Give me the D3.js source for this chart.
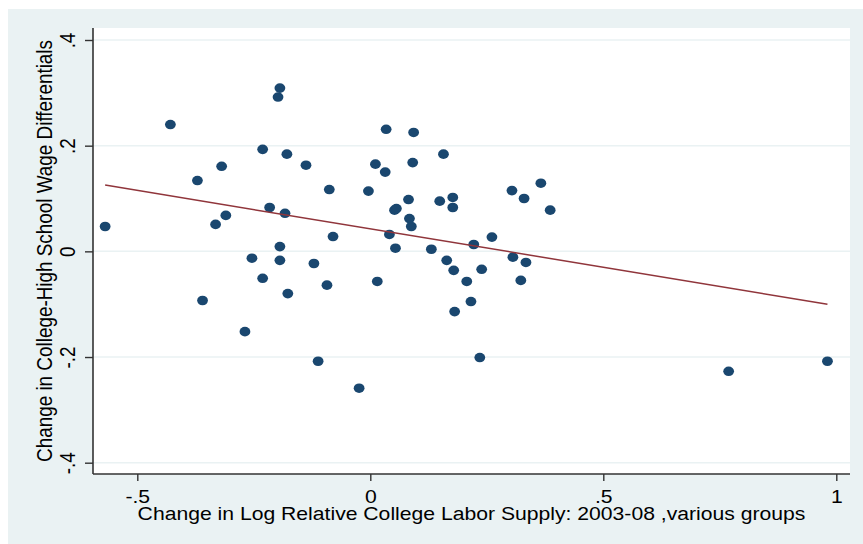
<!DOCTYPE html>
<html>
<head>
<meta charset="utf-8">
<script src="https://cdn.jsdelivr.net/npm/d3@7"></script>
<style>
  body { margin: 0; background: #fff; }
  text { font-family: "Liberation Sans", Arial, sans-serif; fill: #000; }
</style>
</head>
<body>
<svg id="chart" width="863" height="544"></svg>
<script>
// change in log relative college supply (x) vs change in college wage premium (y)
var supply = [-0.569, -0.429, -0.371, -0.360, -0.332, -0.319, -0.310, -0.269, -0.254, -0.231,
              -0.231, -0.216, -0.198, -0.194, -0.194, -0.194, -0.183, -0.179, -0.177, -0.138,
              -0.121, -0.112, -0.093, -0.088, -0.080, -0.024, -0.004, 0.011, 0.015, 0.032,
              0.034, 0.041, 0.052, 0.056, 0.054, 0.082, 0.084, 0.088, 0.091, 0.093,
              0.131, 0.149, 0.157, 0.164, 0.177, 0.177, 0.179, 0.181, 0.207, 0.216,
              0.222, 0.235, 0.239, 0.261, 0.304, 0.306, 0.323, 0.330, 0.334, 0.366,
              0.386, 0.769, 0.981];
var wage = [0.047, 0.240, 0.134, -0.093, 0.051, 0.161, 0.068, -0.152, -0.013, 0.193,
            -0.051, 0.083, 0.292, 0.309, 0.009, -0.017, 0.072, 0.184, -0.080, 0.163,
            -0.023, -0.208, -0.064, 0.117, 0.028, -0.259, 0.114, 0.165, -0.057, 0.150,
            0.231, 0.032, 0.078, 0.081, 0.006, 0.098, 0.062, 0.047, 0.168, 0.225,
            0.004, 0.095, 0.184, -0.017, 0.102, 0.083, -0.036, -0.114, -0.057, -0.095,
            0.013, -0.201, -0.034, 0.027, 0.115, -0.011, -0.055, 0.100, -0.021, 0.129,
            0.078, -0.227, -0.208];

var xTicks = [-0.5, 0, 0.5, 1];
var yTicks = [-0.4, -0.2, 0, 0.2, 0.4];
var xTitle = "Change in Log Relative College Labor Supply: 2003-08 ,various groups";
var yTitle = "Change in College-High School Wage Differentials";

var svg = d3.select("#chart");

var plot = { left: 93, top: 28, right: 850, bottom: 474 };
var stretch = 1.12;   // the picture is a bit wide, text too
var fontSize = "18.9px";

// stata style number format: .5, -.2, 0
var stataFmt = function(d) {
    return String(d).replace(/^(-?)0\./, "$1.");
};

var x = d3.scaleLinear().domain([-0.5, 1]).range([137.3, 836.3]);
var y = d3.scaleLinear().domain([-0.4, 0.4]).range([462.7, 40]);

// background
svg.append("rect")
    .attr("x", 8).attr("y", 9)
    .attr("width", 863 - 8).attr("height", 544 - 9)
    .attr("fill", "#eaf2f3");

svg.append("rect")
    .attr("x", plot.left).attr("y", plot.top)
    .attr("width", plot.right - plot.left).attr("height", plot.bottom - plot.top)
    .attr("fill", "#fff");

// gridlines
svg.append("g")
    .selectAll("line")
    .data(yTicks)
    .join("line")
    .attr("x1", plot.left).attr("x2", plot.right)
    .attr("y1", d => y(d)).attr("y2", d => y(d))
    .attr("stroke", "#eaf2f3")
    .attr("stroke-width", 1.5);

// fitted line (ols on the points)
var mx = d3.mean(supply), my = d3.mean(wage);
var sxy = d3.sum(supply, (v, i) => (v - mx) * (wage[i] - my));
var sxx = d3.sum(supply, v => (v - mx) * (v - mx));
var b = sxy / sxx, a = my - b * mx;
var xr = d3.extent(supply);

// points
svg.append("g")
    .selectAll("ellipse")
    .data(supply)
    .join("ellipse")
    .attr("cx", d => x(d))
    .attr("cy", (d, i) => y(wage[i]))
    .attr("rx", 5.4)
    .attr("ry", 4.8)
    .attr("fill", "#1a476f");

svg.append("line")
    .attr("x1", x(xr[0])).attr("y1", y(a + b * xr[0]))
    .attr("x2", x(xr[1])).attr("y2", y(a + b * xr[1]))
    .attr("stroke", "#90353b")
    .attr("stroke-width", 1.5);

// axes
var xAxis = svg.append("g")
    .attr("transform", "translate(0," + plot.bottom + ")")
    .call(d3.axisBottom(x).tickValues(xTicks).tickFormat(stataFmt).tickSize(7));
xAxis.select(".domain").remove();
xAxis.append("line")
    .attr("x1", plot.left).attr("x2", plot.right)
    .attr("stroke", "#333").attr("stroke-width", 1.6);
xAxis.selectAll(".tick line").attr("stroke", "#333").attr("stroke-width", 1.4);
xAxis.selectAll(".tick text")
    .attr("transform", "scale(" + stretch + ",1)")
    .attr("y", 29).attr("dy", 0)
    .style("font-size", fontSize)
    .attr("fill", "#000");

var yAxis = svg.append("g")
    .attr("transform", "translate(" + plot.left + ",0)")
    .call(d3.axisLeft(y).tickValues(yTicks).tickFormat(stataFmt).tickSize(8));
yAxis.select(".domain").remove();
yAxis.append("line")
    .attr("y1", plot.top).attr("y2", plot.bottom)
    .attr("stroke", "#333").attr("stroke-width", 1.6);
yAxis.selectAll(".tick line").attr("stroke", "#333").attr("stroke-width", 1.4);
yAxis.selectAll(".tick text")
    .attr("transform", "scale(" + stretch + ",1) rotate(-90)")
    .attr("x", 0).attr("y", -16.5).attr("dy", 0)
    .attr("text-anchor", "middle")
    .style("font-size", fontSize)
    .attr("fill", "#000");

// titles
svg.append("text")
    .attr("transform", "translate(" + (plot.left + plot.right) / 2 + ",520) scale(" + stretch + ",1)")
    .attr("text-anchor", "middle")
    .style("font-size", fontSize)
    .text(xTitle);

svg.append("text")
    .attr("transform", "translate(52," + (plot.top + plot.bottom) / 2 + ") scale(" + stretch + ",1) rotate(-90)")
    .attr("text-anchor", "middle")
    .style("font-size", fontSize)
    .text(yTitle);
</script>
</body>
</html>
